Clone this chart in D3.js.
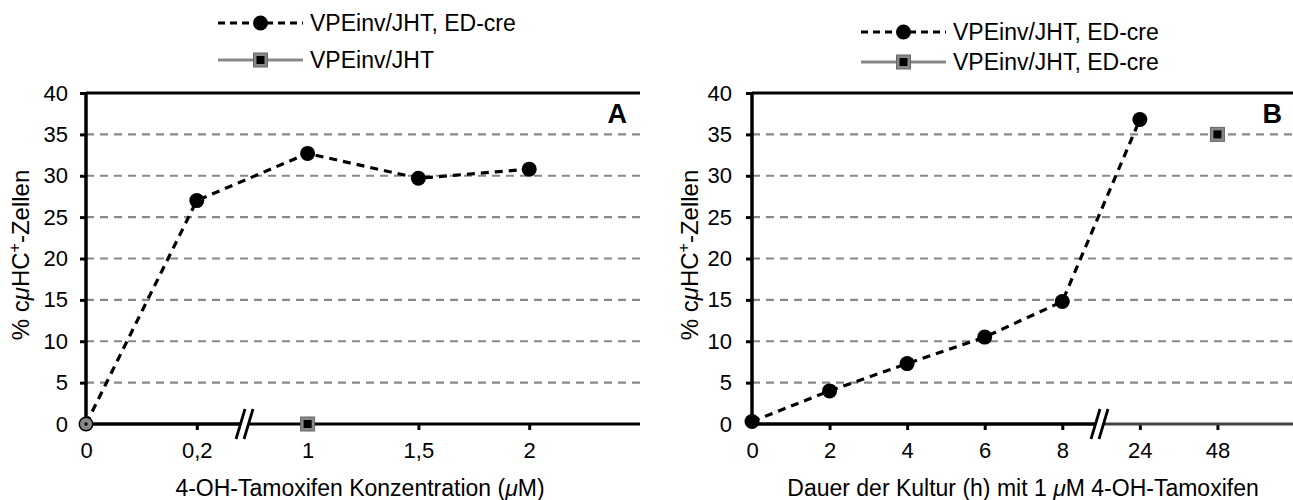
<!DOCTYPE html>
<html><head><meta charset="utf-8">
<script src="https://cdn.jsdelivr.net/npm/d3@7"></script>
<style>body{margin:0;background:#fff}svg{font-family:"Liberation Sans",Arial,sans-serif}</style>
</head><body><svg id="c" width="1293" height="500"></svg>
<script>
const catsA = ["0","0,2","1","1,5","2"];
const edcreA = [0, 27, 32.7, 29.7, 30.8];
const ctrlA = [[0,0],[2,0]]; // [category index, value]
const catsB = ["0","2","4","6","8","24","48"];
const edcreB = [0.3, 4, 7.3, 10.5, 14.8, 36.8];
const ctrlB = [[6,35]];
const yTicks = [0,5,10,15,20,25,30,35,40];
const legendA = ["VPEinv/JHT, ED-cre","VPEinv/JHT"];
const legendB = ["VPEinv/JHT, ED-cre","VPEinv/JHT, ED-cre"];

const FF = "Liberation Sans, Arial, sans-serif";
const svg = d3.select("#c");
const y = d3.scaleLinear().domain([0,40]).range([424,93]);

function panel(o){
  const g = svg.append("g");
  const x = d3.scaleLinear().domain([0,o.nSlots]).range([o.x0,o.x1]);
  // grid
  g.selectAll(".gr").data(yTicks.filter(d=>d>0&&d<40)).join("line")
    .attr("x1",o.x0).attr("x2",o.x1).attr("y1",d=>y(d)).attr("y2",d=>y(d))
    .attr("stroke","#888").attr("stroke-width",2.2).attr("stroke-dasharray","8,6");
  // top border
  g.append("line").attr("x1",o.x0).attr("x2",o.x1).attr("y1",y(40)).attr("y2",y(40)).attr("stroke","#000").attr("stroke-width",3);
  // y axis
  const ya = g.append("g").attr("transform",`translate(${o.x0},0)`)
    .call(d3.axisLeft(y).tickValues(yTicks).tickSize(6).tickPadding(o.ypad));
  ya.select(".domain").attr("stroke-width",3.5).attr("d",`M0,${y(40)}V${y(0)}`);
  ya.selectAll(".tick line").attr("stroke-width",3);
  ya.selectAll("text").attr("font-size",22).attr("font-family",FF).attr("fill","#000");
  // x axis
  const xa = g.append("g").attr("transform",`translate(0,${y(0)})`)
    .call(d3.axisBottom(x).tickValues(d3.range(o.cats.length)).tickFormat(i=>o.cats[i]).tickSize(6).tickPadding(12));
  xa.select(".domain").remove();
  xa.append("line").attr("x1",o.x0).attr("x2",o.brk).attr("stroke","#000").attr("stroke-width",3.5);
  xa.append("line").attr("x1",o.brk).attr("x2",o.x1).attr("stroke",o.afterCol).attr("stroke-width",3.2);
  xa.selectAll(".tick line").attr("stroke-width",3);
  xa.selectAll(".tick").filter(i=>i===0).select("line").remove();
  xa.selectAll("text").attr("font-size",22).attr("font-family",FF).attr("fill","#000");
  // break marks
  const bg = xa.append("g").attr("transform",`translate(${o.brk},0)`);
  bg.append("polygon").attr("points","-7,15 2,-15 10,-15 1,15").attr("fill","#fff");
  bg.append("line").attr("x1",-7).attr("y1",15).attr("x2",2).attr("y2",-15).attr("stroke","#000").attr("stroke-width",2.8);
  bg.append("line").attr("x1",1).attr("y1",15).attr("x2",10).attr("y2",-15).attr("stroke","#000").attr("stroke-width",2.8);
  // series line
  g.append("path").datum(o.ed).attr("fill","none").attr("stroke","#000").attr("stroke-width",3.2)
    .attr("stroke-dasharray","8,6")
    .attr("d",d3.line().x((d,i)=>x(i)).y(d=>y(d)));
  g.selectAll(".pt").data(o.ed).join("circle").attr("cx",(d,i)=>x(i)).attr("cy",d=>y(d)).attr("r",7.5).attr("fill","#000");
  o.ctrl.forEach(([i,v])=>{
    if(o.small && i===0){
      g.append("circle").attr("cx",x(i)).attr("cy",y(v)).attr("r",6).attr("fill","#888");
      g.append("rect").attr("x",x(i)-1.5).attr("y",y(v)-1.5).attr("width",3).attr("height",3).attr("fill","#000");
    } else {
      g.append("rect").attr("x",x(i)-7).attr("y",y(v)-7).attr("width",14).attr("height",14).attr("fill","#888").attr("stroke","#666").attr("stroke-width",1);
      g.append("rect").attr("x",x(i)-4).attr("y",y(v)-4).attr("width",8).attr("height",8).attr("fill","#000");
    }
  });
  // panel letter
  g.append("text").attr("x",o.x1-13).attr("y",123).attr("font-size",27).attr("font-weight","bold").attr("text-anchor","end").text(o.letter);
  // y title
  const yt = g.append("text").attr("transform",`translate(${o.ytx},255) rotate(-90)`).attr("text-anchor","middle").attr("font-size",24);
  yt.append("tspan").text("% c");
  yt.append("tspan").attr("font-style","italic").text("μ");
  yt.append("tspan").text("HC");
  yt.append("tspan").attr("dy",-9).attr("font-size",16).text("+");
  yt.append("tspan").attr("dy",9).text("-Zellen");
  // x title
  const xt = g.append("text").attr("x",o.xtx).attr("y",496).attr("text-anchor","middle").attr("font-size",23);
  o.xtitle.forEach(([t,it])=>xt.append("tspan").attr("font-style",it?"italic":"normal").text(t));
  // legend
  o.legend.forEach((t,k)=>{
    const ly = o.ly[k];
    const lg = g.append("g");
    const cx=(o.lx0+o.lx1)/2;
    if(k===0){
      lg.append("line").attr("x1",o.lx0).attr("x2",o.lx1).attr("y1",ly).attr("y2",ly).attr("stroke","#000").attr("stroke-width",3).attr("stroke-dasharray","7,5");
      lg.append("circle").attr("cx",cx).attr("cy",ly).attr("r",7.5).attr("fill","#000");
    } else {
      lg.append("line").attr("x1",o.lx0).attr("x2",o.lx1).attr("y1",ly).attr("y2",ly).attr("stroke","#888").attr("stroke-width",3);
      lg.append("rect").attr("x",cx-7).attr("y",ly-7).attr("width",14).attr("height",14).attr("fill","#888").attr("stroke","#666");
      lg.append("rect").attr("x",cx-4).attr("y",ly-4).attr("width",8).attr("height",8).attr("fill","#000");
    }
    lg.append("text").attr("x",o.lx1+7).attr("y",ly+8).attr("font-size",23).text(t);
  });
}

panel({x0:86,x1:640,nSlots:5,cats:catsA,ed:edcreA,ctrl:ctrlA,brk:243,afterCol:"#000",small:true,ypad:12,
  letter:"A",ytx:29,xtx:360,xtitle:[["4-OH-Tamoxifen Konzentration ("],["μ",1],["M)"]],
  legend:legendA,ly:[23,60],lx0:218,lx1:303});
panel({x0:752,x1:1295,nSlots:7,cats:catsB,ed:edcreB,ctrl:ctrlB,brk:1098,afterCol:"#444",small:false,ypad:14,
  letter:"B",ytx:698,xtx:1023,xtitle:[["Dauer der Kultur (h) mit 1 "],["μ",1],["M 4-OH-Tamoxifen"]],
  legend:legendB,ly:[32,62],lx0:861,lx1:946});
</script></body></html>
